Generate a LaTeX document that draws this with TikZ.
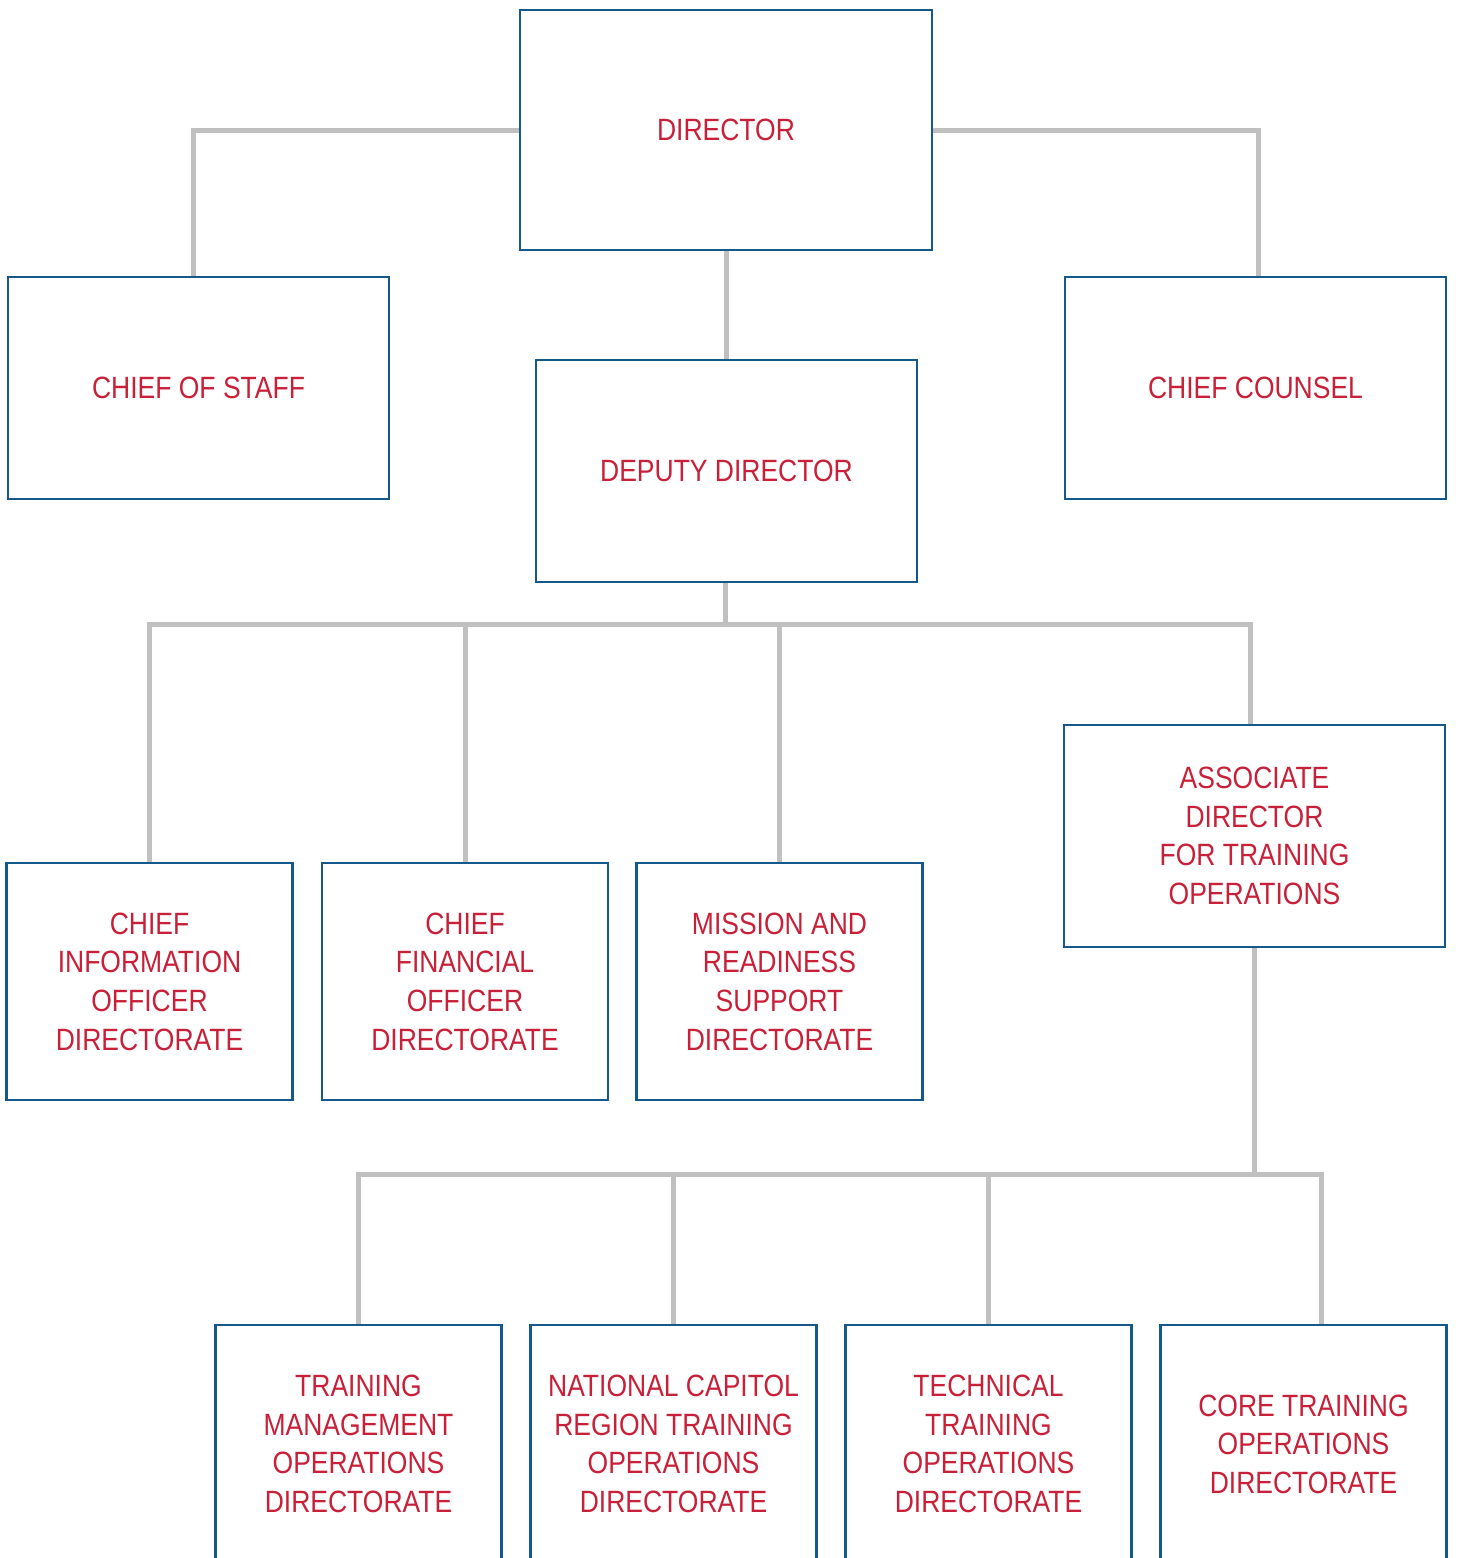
\documentclass[tikz,border=0pt]{standalone}
\usepackage{fontspec}
\setmainfont[FakeStretch=0.86]{Liberation Sans}
\usetikzlibrary{positioning, backgrounds}

\definecolor{orgblue}{RGB}{20,88,140}
\definecolor{orgred}{RGB}{200,32,56}
\definecolor{orggray}{RGB}{192,192,192}

\begin{document}
\begin{tikzpicture}[x=0.5pt, y=-0.5pt,
    unit/.style={draw=orgblue, line width=1.25pt, fill=white, text=orgred,
      align=center, inner sep=0pt, font=\fontsize{15.4}{19.3}\selectfont},
    wide/.style={unit, minimum width=190.5pt, minimum height=111pt},
    narrow/.style={unit, minimum width=143pt, minimum height=118.5pt},
    link/.style={draw=orggray, line width=2.5pt}]
    \useasboundingbox (0,0) rectangle (1457,1558);
    \clip (0,0) rectangle (1457,1558);
    % top
    \node[unit, minimum width=206pt, minimum height=120pt] (dir) at (726,130) {DIRECTOR};
    \node[wide] (cos) at (198.5,388) {CHIEF OF STAFF};
    \node[wide] (cc)  at (1255.5,388) {CHIEF COUNSEL};
    \node[wide] (dep) at (726.5,471) {DEPUTY DIRECTOR};
    % directorates
    \node[narrow] (cio) at (149.5,981.5) {CHIEF\\INFORMATION\\OFFICER\\DIRECTORATE};
    \node[narrow] (cfo) at (465,981.5) {CHIEF\\FINANCIAL\\OFFICER\\DIRECTORATE};
    \node[narrow] (mrs) at (779.5,981.5) {MISSION AND\\READINESS\\SUPPORT\\DIRECTORATE};
    \node[wide] (adto) at (1254.5,836) {ASSOCIATE\\DIRECTOR\\FOR TRAINING\\OPERATIONS};
    % training operations
    \node[narrow, minimum height=119pt] (tmod) at (358.5,1444) {TRAINING\\MANAGEMENT\\OPERATIONS\\DIRECTORATE};
    \node[narrow, minimum height=119pt] (ncr)  at (673.5,1444) {NATIONAL CAPITOL\\REGION TRAINING\\OPERATIONS\\DIRECTORATE};
    \node[narrow, minimum height=119pt] (ttod) at (988.5,1444) {TECHNICAL\\TRAINING\\OPERATIONS\\DIRECTORATE};
    \node[narrow, minimum height=119pt] (core) at (1303.5,1444) {CORE TRAINING\\OPERATIONS\\DIRECTORATE};

    \coordinate (busA) at (725,624);
    \coordinate (busB) at (1254.5,1174);
    \begin{scope}[on background layer]
      \draw[link] (dir.west) -| ([xshift=-2.75pt]cos.north);
      \draw[link] (dir.east) -| ([xshift=1.25pt]cc.north);
      \draw[link] (dir.south) -- (dir.south |- dep.north);
      \draw[link] (dep.south -| busA) -- (busA);
      \draw[link] (cio.north) |- (busA) -| ([xshift=-2.25pt]adto.north);
      \draw[link] (cfo.north) -- (cfo.north |- busA);
      \draw[link] (mrs.north) -- (mrs.north |- busA);
      \draw[link] (adto.south) -- (busB);
      \draw[link] (tmod.north) |- (busB) -| ([xshift=8.75pt]core.north);
      \draw[link] (ncr.north) -- (ncr.north |- busB);
      \draw[link] (ttod.north) -- (ttod.north |- busB);
    \end{scope}
\end{tikzpicture}
\end{document}
